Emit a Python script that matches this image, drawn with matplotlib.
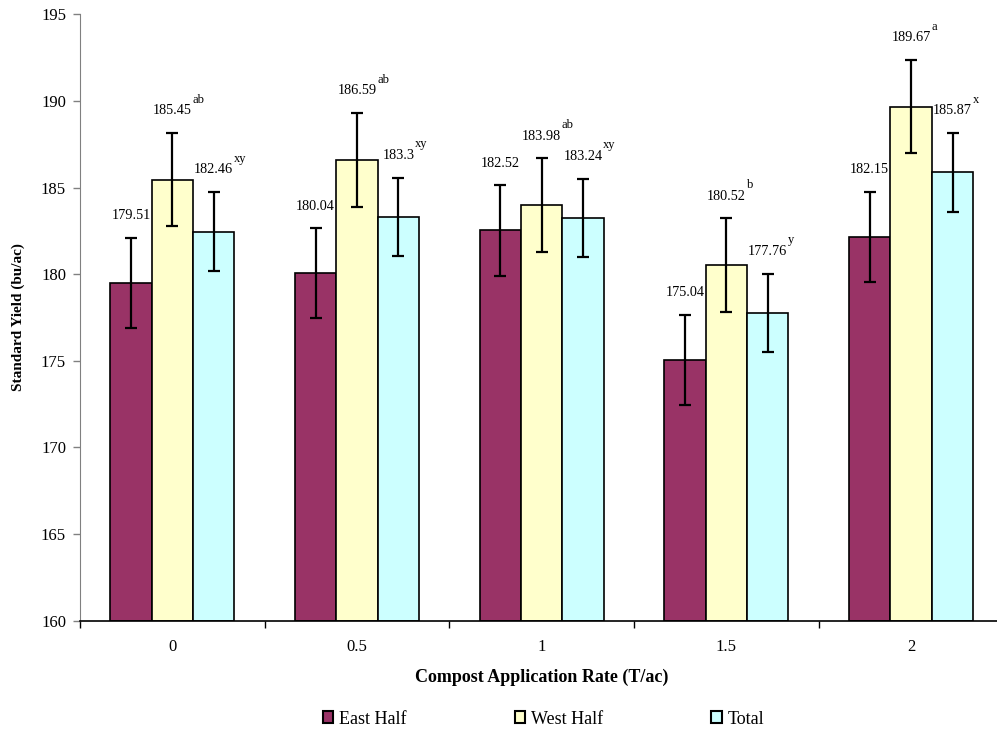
import numpy as np
import matplotlib.pyplot as plt
from matplotlib.patches import Patch

plt.rcParams['font.family'] = ['Liberation Serif', 'DejaVu Serif']

rates = ['0', '0.5', '1', '1.5', '2']
east = [179.51, 180.04, 182.52, 175.04, 182.15]
west = [185.45, 186.59, 183.98, 180.52, 189.67]
total = [182.46, 183.3, 183.24, 177.76, 185.87]
east_err = [2.6, 2.6, 2.6, 2.6, 2.6]
west_err = [2.7, 2.7, 2.7, 2.7, 2.7]
total_err = [2.27, 2.27, 2.27, 2.27, 2.27]
east_sup = ['', '', '', '', '']
west_sup = ['ab', 'ab', 'ab', 'b', 'a']
total_sup = ['xy', 'xy', 'xy', 'y', 'x']

series = [
    ('East Half', east, east_err, east_sup, '#993366'),
    ('West Half', west, west_err, west_sup, '#FFFFCC'),
    ('Total', total, total_err, total_sup, '#CCFFFF'),
]

fig = plt.figure(figsize=(9.97, 7.34), dpi=100)
ax = fig.add_axes([0.0802, 0.1546, 0.9263, 0.8259])

x = np.arange(len(rates))
w = 0.224
fs = 10.3

for i, (name, vals, err, sup, col) in enumerate(series):
    pos = x + (i - 1) * w
    ax.bar(pos, [v - 160 for v in vals], w, bottom=160, color=col,
           edgecolor='black', linewidth=1.2, label=name, zorder=2)
    ax.errorbar(pos, vals, yerr=err, fmt='none', ecolor='black',
                elinewidth=1.6, capsize=4, capthick=1.6, zorder=3)
    for p, v, e, s in zip(pos, vals, err, sup):
        txt = f'{v:g}'
        ax.annotate(txt, (p, v + e), xytext=(0, 16), textcoords='offset points',
                    ha='center', va='center', fontsize=fs)
        if s:
            nd = sum(c.isdigit() for c in txt)
            half = (nd * 0.5 + txt.count('.') * 0.25) * fs / 2
            ax.annotate(s, (p, v + e), xytext=(half + 0.3, 24),
                        textcoords='offset points', ha='left', va='center',
                        fontsize=9)

ax.set_ylim(160, 195)
ax.set_yticks(np.arange(160, 196, 5))
ax.set_xlim(-0.5, len(rates) - 0.5)
ax.set_xticks(np.arange(-0.5, len(rates), 1.0))
ax.set_xticklabels([])
ax.set_xticks(x, minor=True)
ax.set_xticklabels(rates, minor=True)
ax.tick_params(axis='x', which='major', direction='out', length=5, width=1)
ax.tick_params(axis='x', which='minor', length=0, pad=13, labelsize=12)
ax.tick_params(axis='y', direction='out', length=5, width=1, labelsize=12, pad=5,
               color='#808080')

for sp in ['top', 'right']:
    ax.spines[sp].set_visible(False)
ax.spines['left'].set_color('#808080')
ax.spines['bottom'].set_color('black')
ax.spines['bottom'].set_linewidth(1.2)

ax.set_xlabel('Compost Application Rate (T/ac)', fontsize=13, fontweight='bold')
ax.xaxis.set_label_coords(0.5, -0.079)
ax.set_ylabel('Standard Yield (bu/ac)', fontsize=11, fontweight='bold')
ax.yaxis.set_label_coords(-0.0594, 0.5)

handles = [Patch(facecolor=c, edgecolor='black', linewidth=1.5) for _, _, _, _, c in series]
fig.legend(handles, [s[0] for s in series], loc='center', bbox_to_anchor=(0.545, 0.0204),
           ncol=3, frameon=False, fontsize=13, handlelength=0.6, handleheight=0.6,
           handletextpad=0.3, columnspacing=6.0)

fig.savefig('out.png', dpi=100)
